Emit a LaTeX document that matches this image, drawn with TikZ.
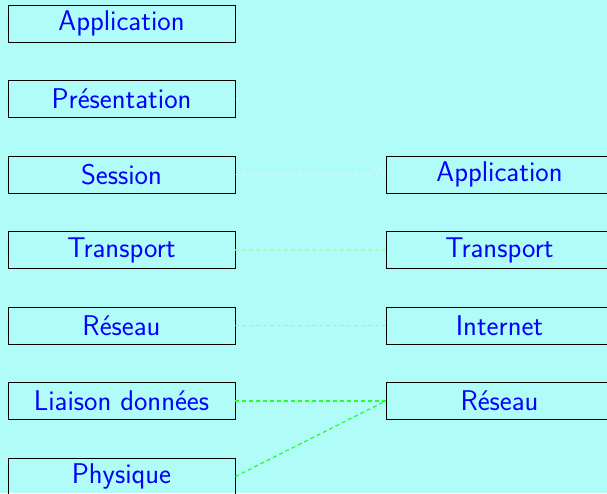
\documentclass[tikz,border=0pt]{standalone}
\usepackage{amsmath}
\usepackage{tikz}

\definecolor{fondcyan}{RGB}{176,252,249}

\begin{document}
\begin{tikzpicture}[x=1pt,y=1pt,yscale=-1,xscale=1,
  couche/.style={draw=black,line width=0.8pt,minimum width=227pt,minimum height=37pt,inner sep=0pt,text=blue,font=\sffamily\fontsize{28.5}{32}\selectfont},
  lien/.style={dash pattern={on 4pt off 3pt},line width=1.2pt}]
% background, fixes the frame
\fill [fondcyan] (0,0) rectangle (607,493);
\useasboundingbox (0,0) rectangle (607,493);

% Shape: Rectangle (OSI)
\node [couche] (osiapp) at (121.5,23.5) {Application};
\node [couche] (osipres) at (121.5,99) {Présentation};
\node [couche] (osises) at (121.5,174.5) {Session};
\node [couche] (ositrans) at (121.5,250) {Transport};
\node [couche] (osires) at (121.5,325.5) {Réseau};
\node [couche] (osiliai) at (121.5,401) {Liaison données};
\node [couche] (osiphys) at (121.5,476.5) {Physique};

% Shape: Rectangle (TCP/IP)
\node [couche] (tcpapp) at (499.5,174.5) {Application};
\node [couche] (tcptrans) at (499.5,250) {Transport};
\node [couche] (tcpnet) at (499.5,325.5) {Internet};
\node [couche] (tcpres) at (499.5,401) {Réseau};

%Straight Lines
\draw [lien,color=white,opacity=0.15] (osiapp.east) -- (tcpapp.west);
\draw [lien,color=white,opacity=0.22] (osipres.east) -- (tcpapp.west);
\draw [lien,color=white,opacity=0.4] (osises.east) -- (tcpapp.west);
\draw [lien,color=green!40!white,opacity=0.7] (ositrans.east) -- (tcptrans.west);
\draw [lien,color=green!50!white,opacity=0.75] (osires.east) -- (tcpnet.west);
\draw [lien,color=green!85!white] (osiliai.east) -- (tcpres.west);
\draw [lien,color=green!85!white] (osiphys.east) -- (tcpres.west);
\end{tikzpicture}
\end{document}
